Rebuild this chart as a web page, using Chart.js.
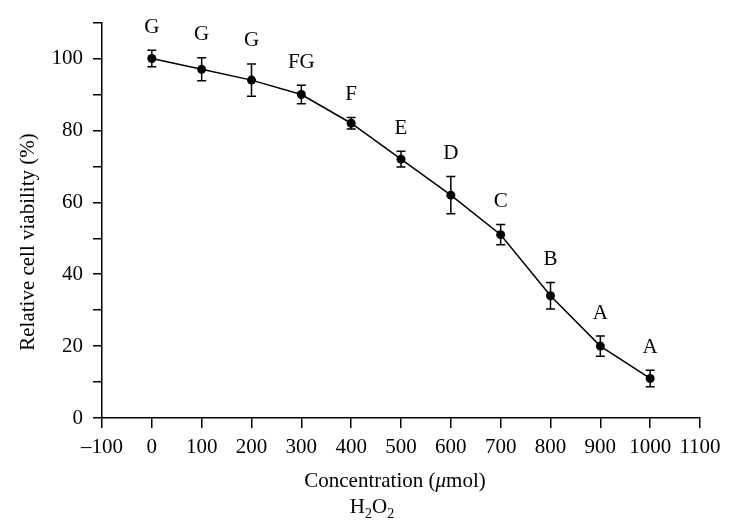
<!DOCTYPE html>
<html>
<head>
<meta charset="utf-8">
<script src="https://cdn.jsdelivr.net/npm/chart.js@4"></script>
<style>
    body { margin: 0; background: #fff; }
    #wrap { width: 730px; height: 532px; position: relative; }
</style>
</head>
<body>
<div id="wrap"><canvas id="viabilityChart"></canvas></div>
<script>
// H2O2 concentration (umol) and relative viability (%)
const concentrations = [0, 100, 200, 300, 400, 500, 600, 700, 800, 900, 1000];
const viability = [100, 97, 94, 90, 82, 72, 62, 51, 34, 20, 11];
const errors = [2.3, 3.2, 4.5, 2.6, 1.6, 2.2, 5.2, 2.8, 3.7, 2.8, 2.3];
const groups = ['G', 'G', 'G', 'FG', 'F', 'E', 'D', 'C', 'B', 'A', 'A'];

const serif = '"Liberation Serif", "Times New Roman", serif';

const errorBars = {
    id: 'errorBars',
    afterDatasetsDraw(chart) {
        const { ctx, scales: { x, y } } = chart;
        ctx.save();
        ctx.strokeStyle = '#000';
        ctx.fillStyle = '#000';
        ctx.lineWidth = 1.5;
        ctx.font = '21px ' + serif;
        ctx.textAlign = 'center';
        ctx.textBaseline = 'middle';
        concentrations.forEach((c, i) => {
            const px = x.getPixelForValue(c);
            const top = y.getPixelForValue(viability[i] + errors[i]);
            const bot = y.getPixelForValue(viability[i] - errors[i]);
            ctx.beginPath();
            ctx.moveTo(px, top);
            ctx.lineTo(px, bot);
            ctx.moveTo(px - 4.5, top);
            ctx.lineTo(px + 4.5, top);
            ctx.moveTo(px - 4.5, bot);
            ctx.lineTo(px + 4.5, bot);
            ctx.stroke();
            // significance letters above each bar
            ctx.fillText(groups[i], px, top - 23);
        });
        ctx.restore();
    }
};

const axisTitles = {
    id: 'axisTitles',
    afterDraw(chart) {
        const { ctx } = chart;
        ctx.save();
        ctx.fillStyle = '#000';
        ctx.textBaseline = 'alphabetic';

        // y title
        ctx.save();
        ctx.translate(34, 242);
        ctx.rotate(-Math.PI / 2);
        ctx.font = '21px ' + serif;
        ctx.textAlign = 'center';
        ctx.fillText('Relative cell viability (%)', 0, 0);
        ctx.restore();

        // x title: Concentration (μmol), mu in italics
        ctx.textAlign = 'left';
        const parts = [
            ['Concentration (', '21px ' + serif],
            ['μ', 'italic 21px ' + serif],
            ['mol)', '21px ' + serif]
        ];
        let total = 0;
        parts.forEach(p => { ctx.font = p[1]; total += ctx.measureText(p[0]).width; });
        let cx = 395 - total / 2;
        parts.forEach(p => {
            ctx.font = p[1];
            ctx.fillText(p[0], cx, 487);
            cx += ctx.measureText(p[0]).width;
        });

        // H2O2 with subscripts
        const h = [
            ['H', false], ['2', true], ['O', false], ['2', true]
        ];
        let w = 0;
        h.forEach(p => { ctx.font = (p[1] ? '14px ' : '21px ') + serif; w += ctx.measureText(p[0]).width; });
        let hx = 372 - w / 2;
        h.forEach(p => {
            ctx.font = (p[1] ? '14px ' : '21px ') + serif;
            ctx.fillText(p[0], hx, p[1] ? 518 : 513);
            hx += ctx.measureText(p[0]).width;
        });
        ctx.restore();
    }
};

new Chart(document.getElementById('viabilityChart'), {
    type: 'scatter',
    data: {
        datasets: [{
            label: 'Viability',
            data: concentrations.map((c, i) => ({ x: c, y: viability[i] })),
            showLine: true,
            borderColor: '#000',
            borderWidth: 1.5,
            pointRadius: 4.5,
            pointBackgroundColor: '#000',
            pointBorderColor: '#000',
            pointBorderWidth: 0,
            tension: 0
        }]
    },
    options: {
        responsive: true,
        maintainAspectRatio: false,
        animation: false,
        layout: { padding: { top: 19, right: 30, bottom: 0, left: 0 } },
        plugins: {
            legend: { display: false },
            tooltip: { enabled: false }
        },
        scales: {
            x: {
                type: 'linear',
                min: -100,
                max: 1100,
                afterFit: s => { s.height = 114; },
                border: { color: '#000', width: 1.5 },
                grid: { drawOnChartArea: false, drawTicks: true, tickLength: 10, color: '#000', lineWidth: 1.5 },
                ticks: {
                    stepSize: 100,
                    autoSkip: false,
                    maxRotation: 0,
                    padding: 7,
                    color: '#000',
                    font: { family: serif, size: 21 },
                    callback: v => v < 0 ? '–' + Math.abs(v) : String(v)
                }
            },
            y: {
                min: 0,
                max: 110,
                afterFit: s => { s.width = 102; },
                border: { color: '#000', width: 1.5 },
                grid: { drawOnChartArea: false, drawTicks: true, tickLength: 9, color: '#000', lineWidth: 1.5 },
                ticks: {
                    stepSize: 10,
                    autoSkip: false,
                    padding: 10,
                    color: '#000',
                    font: { family: serif, size: 21 },
                    callback: v => (v % 20 === 0 && v <= 100) ? String(v) : ''
                }
            }
        }
    },
    plugins: [errorBars, axisTitles]
});
</script>
</body>
</html>
